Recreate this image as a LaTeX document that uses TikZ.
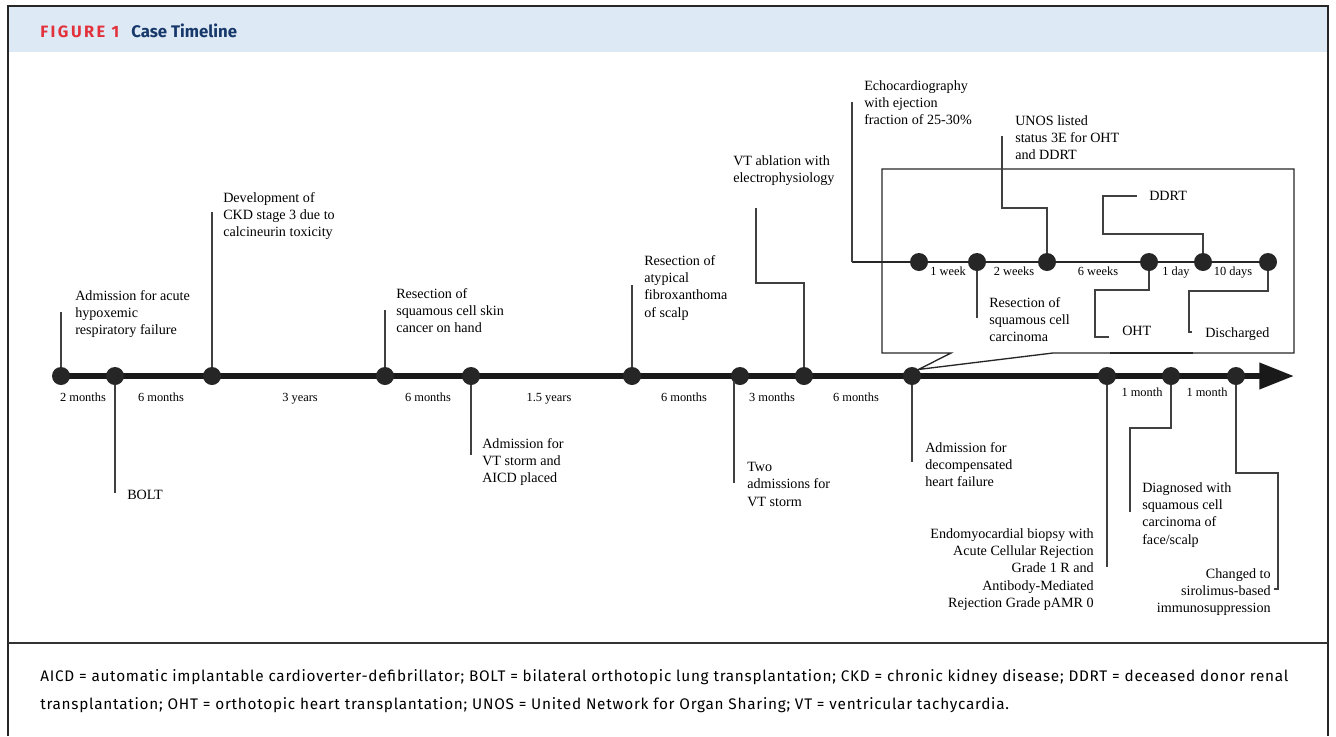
\documentclass[tikz,border=0pt]{standalone}
\usepackage{fontspec}
\setmainfont{Liberation Serif}
\newfontfamily\capfont[LetterSpace=4.8]{Fira Sans}
\newfontfamily\figfont[LetterSpace=15]{Fira Sans}
\usetikzlibrary{arrows.meta}
\definecolor{bandblue}{HTML}{DDE9F5}
\definecolor{figred}{HTML}{E3313C}
\definecolor{navy}{HTML}{17386A}

\begin{document}
\begin{tikzpicture}[x=0.75pt,y=-0.75pt,
    dot/.style={circle,fill=black!85,inner sep=0pt,minimum size=13.5pt},
    conn/.style={draw=black!75,line width=0.9pt},
    event/.style={anchor=north west,align=left,inner sep=0pt,font=\fontsize{10.6}{13}\selectfont},
    eventr/.style={event,anchor=north east,align=right},
    gap/.style={anchor=north,inner sep=0pt,font=\fontsize{9.3}{11}\selectfont}]
    \useasboundingbox (0,0) rectangle (1336,736);
    % header band and frame
    \fill[bandblue] (9,7) rectangle (1327,52);
    \draw[line width=1.5pt,black!85] (8,736) -- (8,6) -- (1328,6) -- (1328,736);
    \draw[line width=1.1pt,black!80] (8,643) -- (1328,643);
    \node[anchor=base west,inner sep=0pt,text=figred,font=\figfont\bfseries\fontsize{12.3}{14}\selectfont] (fig) at (40,37) {FIGURE 1};
    \node[anchor=base west,inner sep=0pt,text=navy,font=\capfont\bfseries\addfontfeatures{LetterSpace=0}\fontsize{12.6}{14}\selectfont] (title) at (131,37) {Case Timeline};

    % main time axis
    \coordinate (start) at (61,376);
    \coordinate (tip) at (1294,376);
    \draw[line width=4.5pt,black!90,-{Triangle[length=26pt,width=19pt]}] (start) -- (tip);
    \foreach \n/\x in {1/61,2/115,3/212,4/385,5/471,6/632,7/740,8/804,9/912,10/1107,11/1171,12/1236}
        \node[dot] (d\n) at (\x,376) {};
    \foreach \x/\t [count=\k] in {83/2 months,161/6 months,300/3 years,428/6 months,549/1.5 years,684/6 months,772/3 months,856/6 months}
        \node[gap] (gap\k) at (\x,393) {\t};
    \node[gap] (gap9) at (1142,388) {1 month};
    \node[gap] (gap10) at (1207,388) {1 month};

    % events on the main axis
    \node[event] (hypox) at (75,290) {Admission for acute\\hypoxemic\\respiratory failure};
    \node[event] (bolt) at (127,490) {BOLT};
    \node[event] (ckd) at (223,192) {Development of\\CKD stage 3 due to\\calcineurin toxicity};
    \node[event] (skin) at (396,288) {Resection of\\squamous cell skin\\cancer on hand};
    \node[event] (aicd) at (482,438) {Admission for\\VT storm and\\AICD placed};
    \node[event] (afx) at (644,255) {Resection of\\atypical\\fibroxanthoma\\of scalp};
    \node[event] (vts) at (747,462) {Two\\admissions for\\VT storm};
    \node[event] (abl) at (733,155) {VT ablation with\\electrophysiology};
    \node[event] (adhf) at (925,442) {Admission for\\decompensated\\heart failure};
    \node[eventr] (biopsy) at (1094,528) {Endomyocardial biopsy with\\Acute Cellular Rejection\\Grade 1 R and\\Antibody-Mediated\\Rejection Grade pAMR 0};
    \node[event] (scc) at (1142,482) {Diagnosed with\\squamous cell\\carcinoma of\\face/scalp};
    \node[eventr] (siro) at (1271,568) {Changed to\\sirolimus-based\\immunosuppression};

    \draw[conn] (d1) -- ++(0,-64);
    \draw[conn] (d2) -- ++(0,117);
    \draw[conn] (d3) -- ++(0,-164);
    \draw[conn] (d4) -- ++(0,-66);
    \draw[conn] (d5) -- ++(0,79);
    \draw[conn] (d6) -- ++(0,-91);
    \draw[conn] ([xshift=-4.5pt,yshift=3pt]d7.south) -- ++(0,102);
    \draw[conn] (d8) -- ++(0,-93) -- ++(-48,0) -- ++(0,-75);
    \draw[conn] (d9) -- ++(0,86);
    \draw[conn] (d10) -- ++(0,191);
    \draw[conn] (d11) -- ++(0,52) -- ++(-41,0) -- ++(0,84);
    \draw[conn] (d12) -- ++(0,97) -- ++(42,0) -- ++(0,116) -- ++(-4,0);

    % zoomed inset of the last months
    \coordinate (zoomA) at (951,353);
    \coordinate (zoomB) at (1053,353);
    \draw[line width=1pt,black!85] (zoomA) -- (d9.north east) -- (zoomB) -| (1294,169) -| (882,353) -- cycle;
    \draw[line width=2.2pt,black!85] (1110,353) -- (1193,353);
    \coordinate (ecorner) at (852,262);
    \coordinate (iend) at (1268,262);
    \draw[line width=1.7pt,black!85] (ecorner) -- (iend);
    \foreach \n/\x in {1/919,2/977,3/1047,4/1149,5/1203,6/1268}
        \node[dot] (i\n) at (\x,262) {};
    \foreach \x/\t [count=\k] in {948/1 week,1014/2 weeks,1098/6 weeks,1176/1 day,1233/10 days}
        \node[gap] (igap\k) at (\x,267) {\t};

    \node[event] (echo) at (864,80) {Echocardiography\\with ejection\\fraction of 25-30\%};
    \node[event] (unos) at (1015,115) {UNOS listed\\status 3E for OHT\\and DDRT};
    \node[event] (rscc) at (989,297) {Resection of\\squamous cell\\carcinoma};
    \node[event] (oht) at (1122,326) {OHT};
    \node[event] (ddrt) at (1149,191) {DDRT};
    \node[event] (disch) at (1205,327) {Discharged};

    \draw[conn] (ecorner) -- ++(0,-160);
    \draw[conn] (i2) -- ++(0,56);
    \draw[conn] (i3) -- ++(0,-54) -- ++(-45,0) -- ++(0,-72);
    \draw[conn] (i4) -- ++(0,28) -- ++(-54,0) -- ++(0,47) -- ++(14,0);
    \draw[conn] (i5) -- ++(0,-28) -- ++(-100,0) -- ++(0,-38) -- ++(34,0);
    \draw[conn] (i6) -- ++(0,29) -- ++(-79,0) -- ++(0,41) -- ++(3,0);

    % abbreviations
    \node[anchor=base west,inner sep=0pt,font=\capfont\fontsize{11.5}{13}\selectfont] (abbr1) at (40,681)
        {AICD = automatic implantable cardioverter-defibrillator; BOLT = bilateral orthotopic lung transplantation; CKD = chronic kidney disease; DDRT = deceased donor renal};
    \node[anchor=base west,inner sep=0pt,font=\capfont\fontsize{11.5}{13}\selectfont] (abbr2) at (40,709)
        {transplantation; OHT = orthotopic heart transplantation; UNOS = United Network for Organ Sharing; VT = ventricular tachycardia.};
\end{tikzpicture}
\end{document}
